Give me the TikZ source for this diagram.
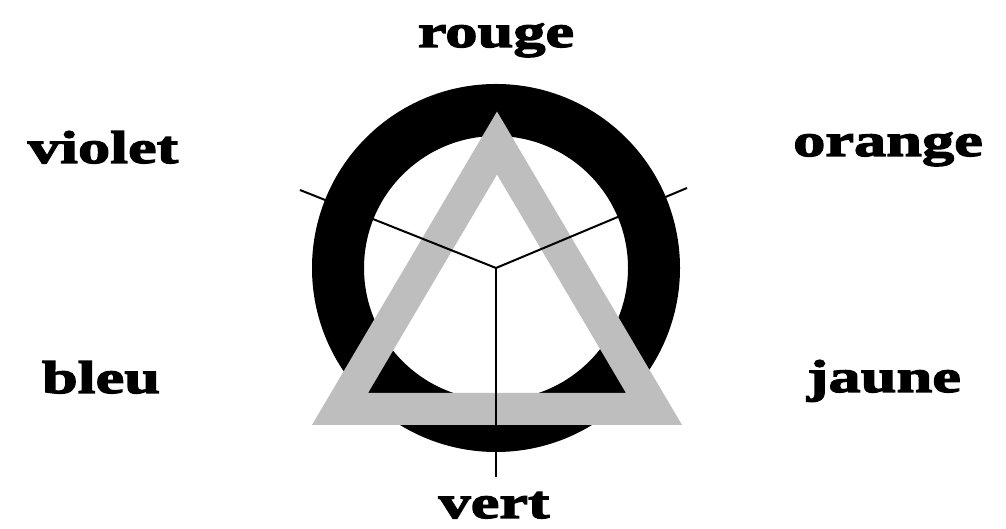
\documentclass[tikz,border=0pt]{standalone}
\usepackage{fontspec}
\setmainfont{Liberation Serif}
\newfontfamily\labelfont[FakeStretch=1.40,BoldFeatures={FakeBold=3}]{Liberation Serif}
\definecolor{trigray}{RGB}{190,190,190}
\tikzset{
  colname/.style={font=\labelfont\bfseries\fontsize{46}{46}\selectfont, anchor=base, inner sep=0pt},
  spoke/.style={line width=2pt}
}
\begin{document}
\begin{tikzpicture}[x=1pt,y=1pt]
          \useasboundingbox (0, 0) rectangle (1006, 529);
          \fill[white] (0, 0) rectangle (1006, 529);
          % ring and triangle
          \draw[line width=52pt] (496, 261) circle (158);
          \draw[color=trigray, line width=32pt, miter limit=10] (497, 386) -- (654, 120) -- (340, 120) -- cycle;
          % spokes
          \coordinate (hub) at (496, 261);
          \coordinate (endleft) at (300, 339);
          \coordinate (endright) at (687, 341);
          \coordinate (enddown) at (496, 52);
          \draw[spoke] (hub) -- (endleft);
          \draw[spoke] (hub) -- (endright);
          \draw[spoke] (hub) -- (enddown);
          % colour names
          \node[colname] (rouge) at (496, 482) {rouge};
          \node[colname] (violet) at (103, 366) {violet};
          \node[colname] (orange) at (888, 373) {orange};
          \node[colname] (bleu) at (101, 136) {bleu};
          \node[colname] (jaune) at (884, 137) {jaune};
          \node[colname] (vert) at (494, 11) {vert};
        \end{tikzpicture}
\end{document}
